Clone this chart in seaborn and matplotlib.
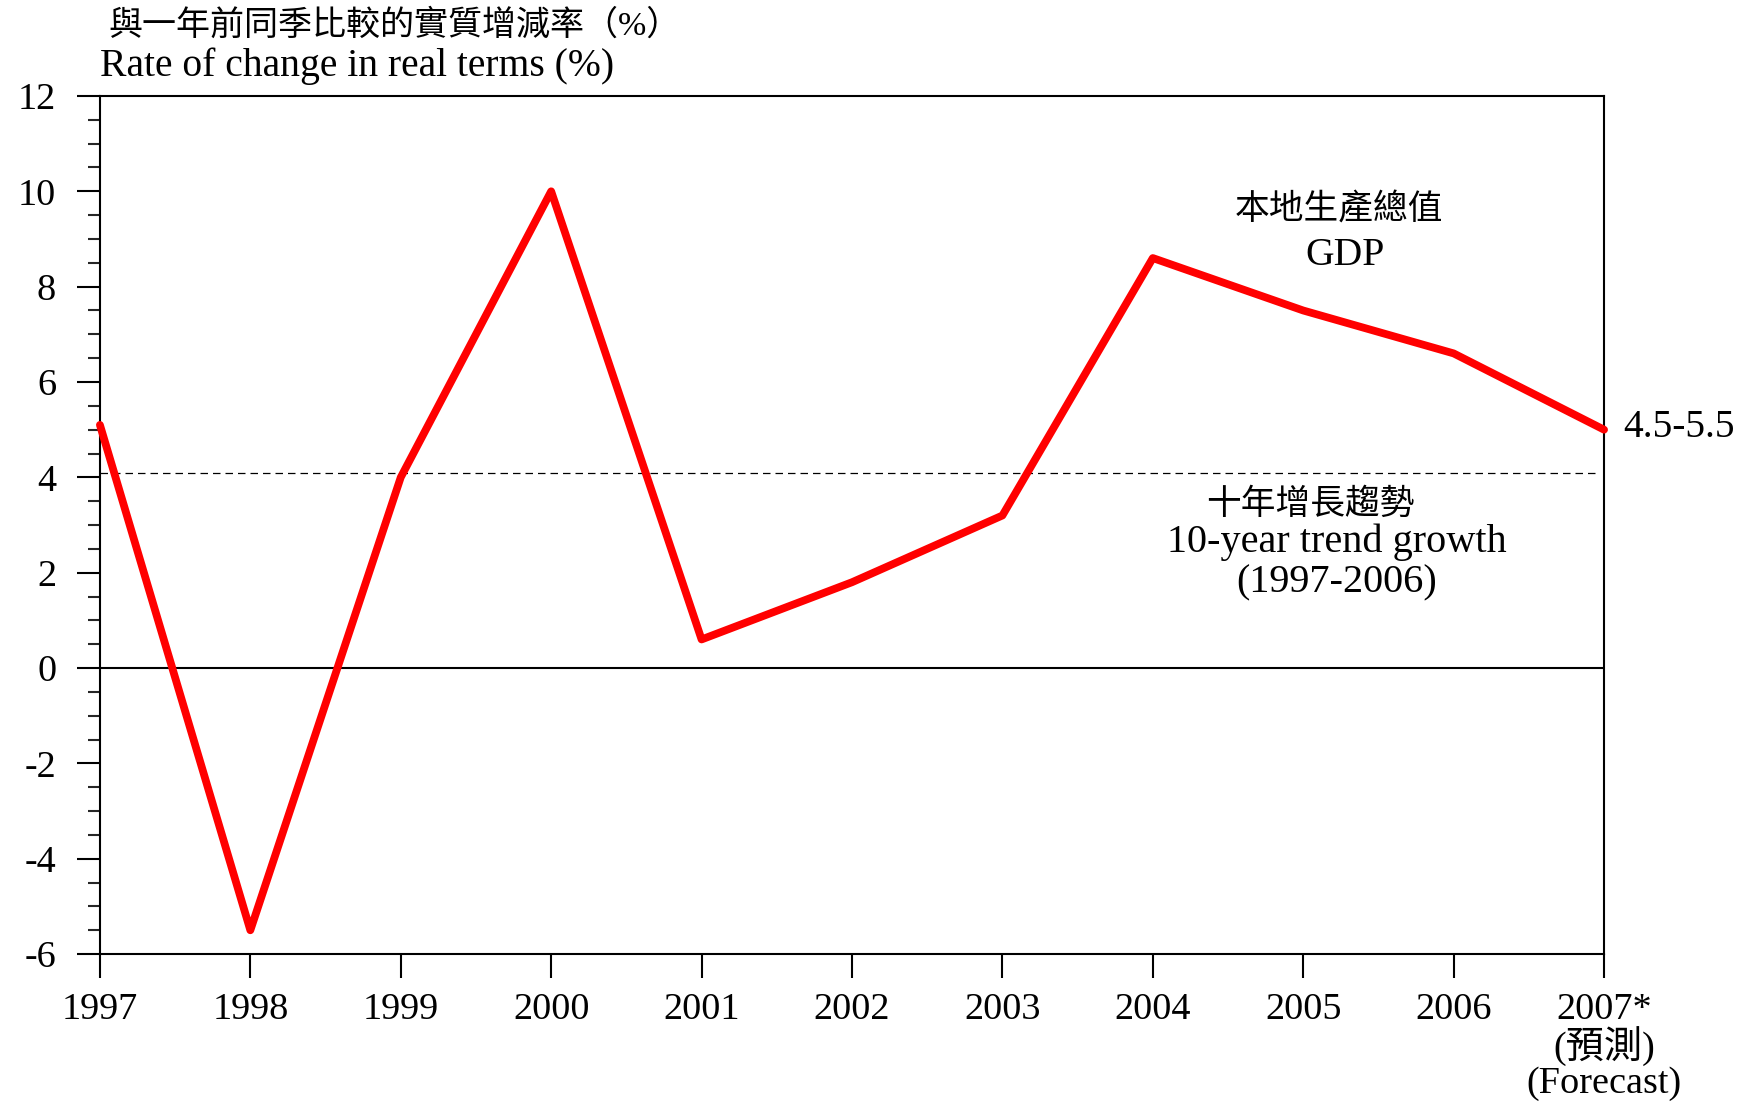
import matplotlib
matplotlib.use("Agg")
import matplotlib.pyplot as plt
from matplotlib.ticker import MultipleLocator
import seaborn as sns
import pandas as pd

# Annual real GDP growth, Hong Kong
years = [1997, 1998, 1999, 2000, 2001, 2002, 2003, 2004, 2005, 2006, 2007]
gdp_growth = [5.1, -5.5, 4.0, 10.0, 0.6, 1.8, 3.2, 8.6, 7.5, 6.6, 5.0]
trend_growth = 4.1
year_labels = ["1997", "1998", "1999", "2000", "2001", "2002", "2003",
               "2004", "2005", "2006", "2007*\n(預測)\n(Forecast)"]
y_ticks = [-6, -4, -2, 0, 2, 4, 6, 8, 10, 12]

sns.set_style("white")
plt.rcParams["font.family"] = ["Liberation Serif", "Noto Sans CJK TC"]
plt.rcParams["font.size"] = 28
plt.rcParams["text.color"] = "black"

df = pd.DataFrame({"year": years, "growth": gdp_growth})

fig = plt.figure(figsize=(17.5, 11.03), dpi=100)
ax = fig.add_axes([0.0571, 0.135, 0.8595, 0.778])

ax.axhline(0, color="black", lw=1.5, zorder=1)
ax.axhline(trend_growth, xmin=0, xmax=0.996, color="black", lw=0.9,
           ls=(0, (6, 4)), zorder=1)

sns.lineplot(data=df, x="year", y="growth", color="#ff0000", lw=5.6,
             ax=ax, zorder=3, clip_on=False)

ax.set_xlim(1997, 2007)
ax.set_ylim(-6, 12)
ax.set_xticks(years)
ax.set_xticklabels(year_labels, linespacing=1.0, va="top")
ax.set_yticks(y_ticks)
ax.set_yticklabels([str(v) for v in y_ticks])
ax.yaxis.set_minor_locator(MultipleLocator(0.5))
ax.set_xlabel("")
ax.set_ylabel("")

for s in ax.spines.values():
    s.set_visible(True)
    s.set_color("black")
    s.set_linewidth(1.5)

ax.tick_params(axis="y", which="major", direction="out", length=16.5,
               width=1.5, pad=15, left=True, labelsize=27.5, colors="black")
ax.tick_params(axis="y", which="minor", direction="out", length=8.5,
               width=1.5, left=True)
ax.tick_params(axis="x", which="major", direction="out", length=17.5,
               width=1.5, pad=10, bottom=True, labelsize=27.5, colors="black")

# Axis titles
fig.text(108 / 1750, 1 - 25 / 1103, "與一年前同季比較的實質增減率（%）",
         fontsize=24.5, va="center", ha="left")
fig.text(100 / 1750, 1 - 66 / 1103, "Rate of change in real terms (%)",
         fontsize=28.5, va="center", ha="left")

# Series annotations
ax.text(2005.24, 9.59, "本地生產總值", fontsize=25, ha="center", va="center")
ax.text(2005.28, 8.65, "GDP", fontsize=28.5, ha="center", va="center")
ax.text(2005.05, 3.42, "十年增長趨勢", fontsize=25, ha="center", va="center")
ax.text(2005.22, 2.64, "10-year trend growth", fontsize=29, ha="center",
        va="center")
ax.text(2005.22, 1.78, "(1997-2006)", fontsize=29, ha="center", va="center")
ax.text(2007.13, gdp_growth[-1] + 0.05, "4.5-5.5", fontsize=28.5, ha="left",
        va="center")

fig.savefig("out.png", dpi=100, facecolor="white")
